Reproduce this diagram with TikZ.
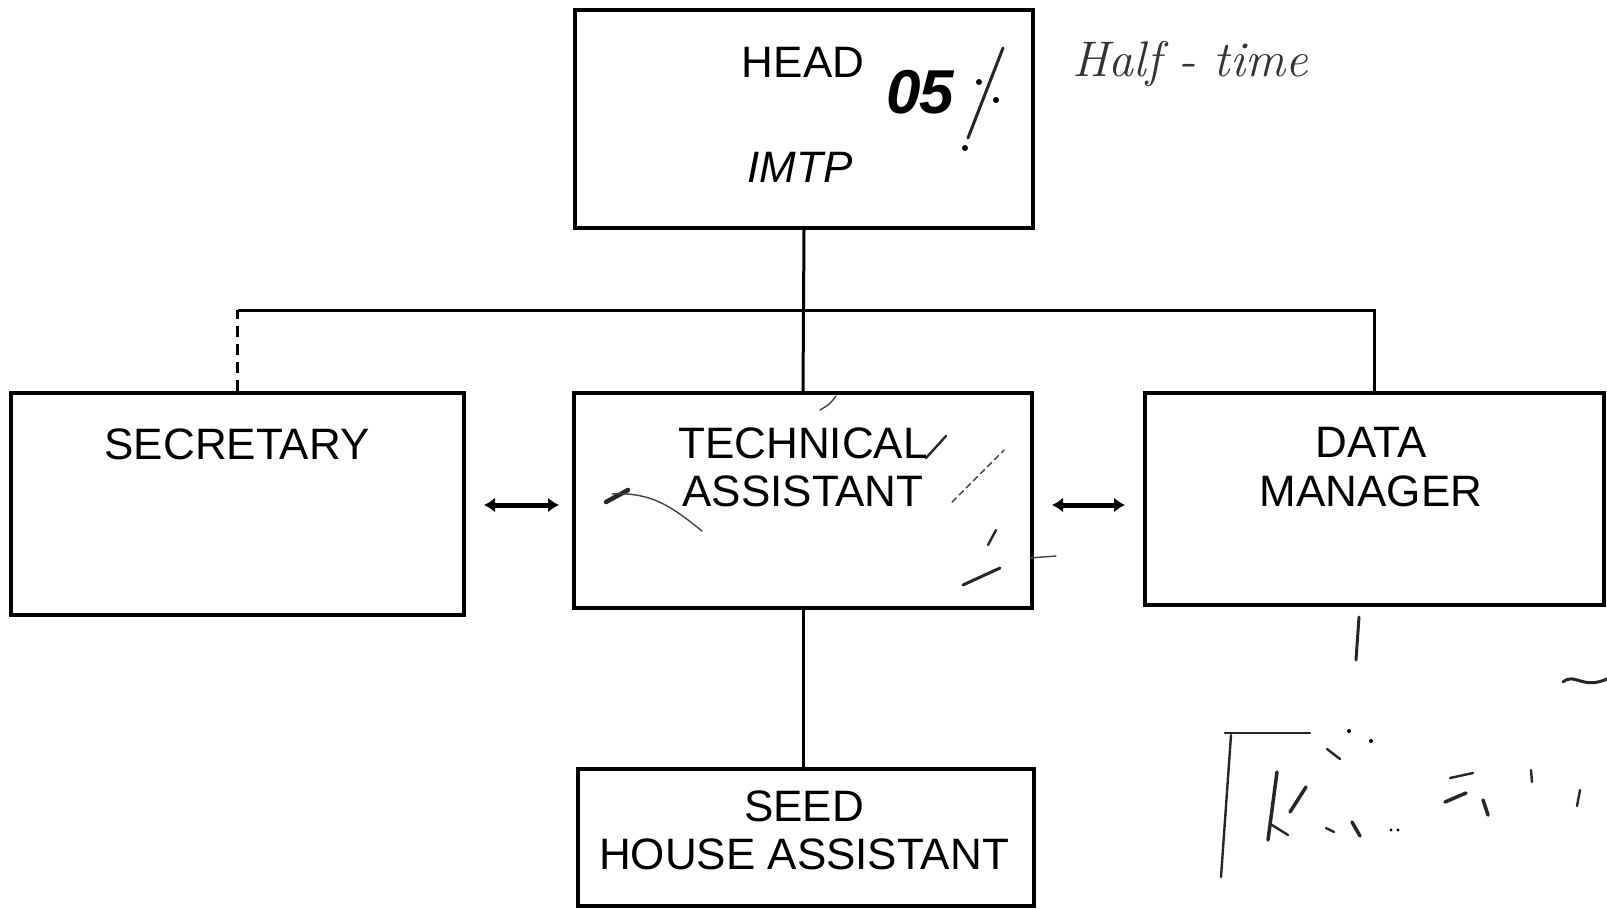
\documentclass[tikz,border=0pt]{standalone}
\usepackage{fontspec}
\setmainfont{Liberation Sans}
\usetikzlibrary{arrows.meta}
\begin{document}
\begin{tikzpicture}[x=1pt,y=-1pt,
  box/.style={draw, line width=3.2pt, rectangle, inner sep=0pt},
  lbl/.style={font=\fontsize{44}{50}\selectfont, inner sep=0pt},
  link/.style={line width=3pt},
  dlink/.style={line width=3pt, dash pattern=on 11pt off 7pt},
  biarrow/.style={line width=5pt, {Latex[length=11pt,width=15pt]}-{Latex[length=11pt,width=15pt]}},
  hand/.style={line width=2.4pt, line cap=round, black!85},
  thinhand/.style={line width=1.4pt, line cap=round, black!75}
]
\useasboundingbox (0,0) rectangle (1607,910);
% boxes
\node[box, minimum width=458pt, minimum height=218pt] (head) at (804,119) {};
\node[box, minimum width=453pt, minimum height=222pt] (sec)  at (237.5,504) {};
\node[box, minimum width=458pt, minimum height=215pt] (tech) at (803,500.5) {};
\node[box, minimum width=459pt, minimum height=212pt] (data) at (1374.5,499) {};
\node[box, minimum width=456pt, minimum height=137pt] (seed) at (806,837.5) {};
% texts
\node[lbl] (thead) at (803,62) {HEAD};
\node[lbl, font=\fontsize{44}{50}\selectfont\itshape] (timtp) at (800,167) {IMTP};
\node[lbl] (tsec) at (237,444) {SECRETARY};
\node[lbl] (ttech1) at (803,443) {TECHNICAL};
\node[lbl] (ttech2) at (803,491) {ASSISTANT};
\node[lbl] (tdata1) at (1371,442) {DATA};
\node[lbl] (tdata2) at (1371,491) {MANAGER};
\node[lbl] (tseed1) at (804,806) {SEED};
\node[lbl] (tseed2) at (804,854) {HOUSE ASSISTANT};
% connectors
\coordinate (bus) at (803,310);
\draw[link] (head.south) -- (tech.north);
\draw[dlink] (sec.north) -- (sec.north |- bus);
\draw[link] (sec.north |- bus) -- (data.north |- bus) -- (data.north);
\draw[link] (tech.south) -- (tech.south |- seed.north);
% double arrows
\coordinate (a1l) at (484,505);
\coordinate (a1r) at (559,505);
\coordinate (a2l) at (1052,505);
\coordinate (a2r) at (1125,505);
\draw[biarrow] (a1l) -- (a1r);
\draw[biarrow] (a2l) -- (a2r);
% handwritten notes
\node[inner sep=0pt, font=\fontsize{62}{62}\selectfont\bfseries\itshape] (pct) at (920,92) {0\kern-2pt5};
\draw[hand, line width=3pt] (1003,48) -- (968,138);
\fill (979,82) circle (3pt);
\fill (996,100) circle (3pt);
\fill (965,148) circle (3pt);
\node[inner sep=0pt, text=black!80, font=\fontsize{50}{50}\selectfont\itshape\fontspec{Latin Modern Roman}] (half) at (1190,64) {Half - time};
% scribbles on technical box
\draw[thinhand] (820,410) .. controls (830,404) .. (836,396);
\draw[hand] (926,458) -- (946,436);
\draw[hand, line width=4.5pt] (606,502) -- (628,490);
\draw[thinhand] (612,494) .. controls (650,492) and (670,505) .. (702,531);
\draw[thinhand, dash pattern=on 6pt off 4pt] (952,502) -- (1004,450);
\draw[hand] (996,530) -- (988,545);
\draw[hand, line width=3pt] (963,585) -- (1000,568);
\draw[thinhand] (1030,558) -- (1056,556);
% marks at bottom right
\draw[hand, line width=3pt] (1359,617) -- (1356,660);
\draw[hand, line width=3pt] (1563,682) .. controls (1575,672) and (1582,690) .. (1607,679);
\draw[hand] (1225,733) -- (1310,733);
\draw[hand] (1231,735) -- (1221,877);
\draw[hand, line width=3.5pt] (1277,772) -- (1268,840);
\draw[hand, line width=3.5pt] (1306,787) -- (1290,812);
\draw[hand] (1272,825) -- (1288,835);
\draw[hand] (1326,828) -- (1334,832);
\draw[hand, line width=3.5pt] (1352,822) -- (1360,836);
\draw[hand] (1327,749) -- (1340,759);
\fill (1349,731) circle (2pt) (1371,741) circle (2pt) (1391,830) circle (1.6pt) (1398,830) circle (1.6pt);
\draw[hand] (1450,778) -- (1473,773);
\draw[hand, line width=3.5pt] (1445,802) -- (1466,793);
\draw[hand, line width=3.5pt] (1483,800) -- (1488,815);
\draw[hand] (1531,770) -- (1532,782);
\draw[hand] (1577,806) -- (1580,790);
\end{tikzpicture}
\end{document}
